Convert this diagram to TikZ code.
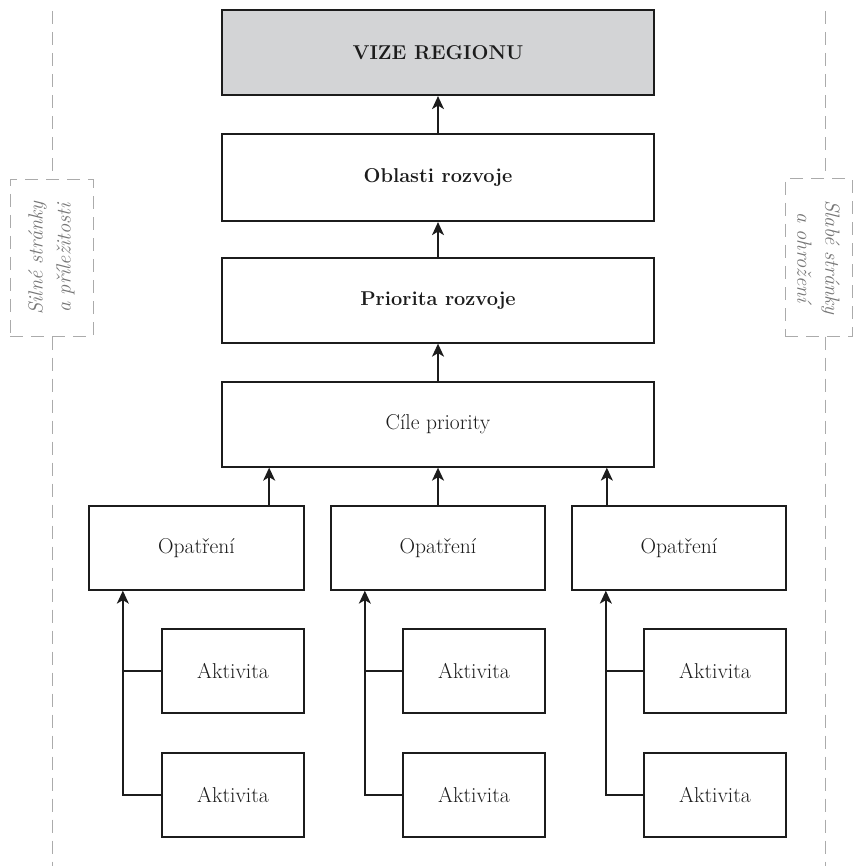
\documentclass[tikz,border=0pt]{standalone}
\usetikzlibrary{arrows.meta,calc}
\definecolor{ink}{HTML}{1C1C1C}
\definecolor{vizefill}{HTML}{D3D4D6}
\definecolor{dashgray}{HTML}{ABABAB}
\definecolor{sidegray}{HTML}{767676}
\begin{document}
\begin{tikzpicture}[x=1pt,y=-1pt,
  box/.style={draw=ink, line width=1.3pt, fill=white, inner sep=0pt, text=ink, font=\fontsize{21.5}{25}\selectfont},
  mainbox/.style={box, minimum width=432pt, minimum height=85pt},
  boldbox/.style={mainbox, font=\fontsize{20}{24}\selectfont\bfseries},
  thickbox/.style={boldbox, line width=2.2pt},
  opbox/.style={box, minimum width=214pt, minimum height=84pt},
  actbox/.style={box, minimum width=142pt, minimum height=84pt},
  arr/.style={draw=ink, line width=1.5pt, -{Stealth[length=13pt,width=12pt,inset=3.5pt]}},
  link/.style={draw=ink, line width=1.5pt},
  sidebox/.style={draw=dashgray, line width=1pt, dash pattern=on 13pt off 8pt, fill=white, inner sep=0pt},
  sidelabel/.style={text=sidegray, align=center, font=\fontsize{20.5}{28}\selectfont\itshape, inner sep=0pt},
  guide/.style={draw=dashgray, line width=1pt, dash pattern=on 13pt off 8pt},
]
\useasboundingbox (0,0) rectangle (862,866);

% side guides
\coordinate (ltop) at (52,11);
\coordinate (lbot) at (52,866);
\coordinate (rtop) at (825,11);
\coordinate (rbot) at (825,866);
\node[sidebox, minimum width=83pt, minimum height=156pt] (lbox) at (51.5,258) {};
\node[sidelabel, rotate=90] (ltext) at (lbox.center) {Silné stránky\\a příležitosti};
\node[sidebox, minimum width=67pt, minimum height=157pt] (rbox) at (818.5,257.5) {};
\node[sidelabel, rotate=-90] (rtext) at (rbox.center) {Slabé stránky\\a ohrožení};
\draw[guide] (ltop) -- (ltop |- lbox.north);
\draw[guide] (lbot |- lbox.south) -- (lbot);
\draw[guide] (rtop) -- (rtop |- rbox.north);
\draw[guide] (rbot |- rbox.south) -- (rbot);

% main column
\node[thickbox, fill=vizefill] (vize) at (438,52.5) {VIZE REGIONU};
\node[thickbox, minimum height=87pt] (obl) at (438,177.5) {Oblasti rozvoje};
\node[boldbox] (pri) at (438,300.5) {Priorita rozvoje};
\node[mainbox] (cil) at (438,424.5) {Cíle priority};

\draw[arr] (obl.north) -- (vize.south);
\draw[arr] (pri.north) -- (obl.south);
\draw[arr] (cil.north) -- (pri.south);

% measures
\node[opbox, minimum width=215pt] (op1) at (196.5,548) {Opatření};
\node[opbox] (op2) at (438,548) {Opatření};
\node[opbox] (op3) at (679,548) {Opatření};

\coordinate (u1) at ([xshift=-35.5pt]op1.north east);
\coordinate (u3) at ([xshift=35.5pt]op3.north west);
\draw[arr] (u1) -- (u1 |- cil.south);
\draw[arr] (op2.north) -- (cil.south);
\draw[arr] (u3) -- (u3 |- cil.south);

% activities
\node[actbox] (a11) at (233,671) {Aktivita};
\node[actbox] (a12) at (233,795) {Aktivita};
\node[actbox] (a21) at (474,671) {Aktivita};
\node[actbox] (a22) at (474,795) {Aktivita};
\node[actbox] (a31) at (715,671) {Aktivita};
\node[actbox] (a32) at (715,795) {Aktivita};

\coordinate (j1) at ([xshift=34.5pt]op1.south west);
\coordinate (j2) at ([xshift=34.5pt]op2.south west);
\coordinate (j3) at ([xshift=34.5pt]op3.south west);
\draw[arr] (a12.west) -| (j1);
\draw[link] (a11.west) -- (a11.west -| j1);
\draw[arr] (a22.west) -| (j2);
\draw[link] (a21.west) -- (a21.west -| j2);
\draw[arr] (a32.west) -| (j3);
\draw[link] (a31.west) -- (a31.west -| j3);
\end{tikzpicture}
\end{document}
